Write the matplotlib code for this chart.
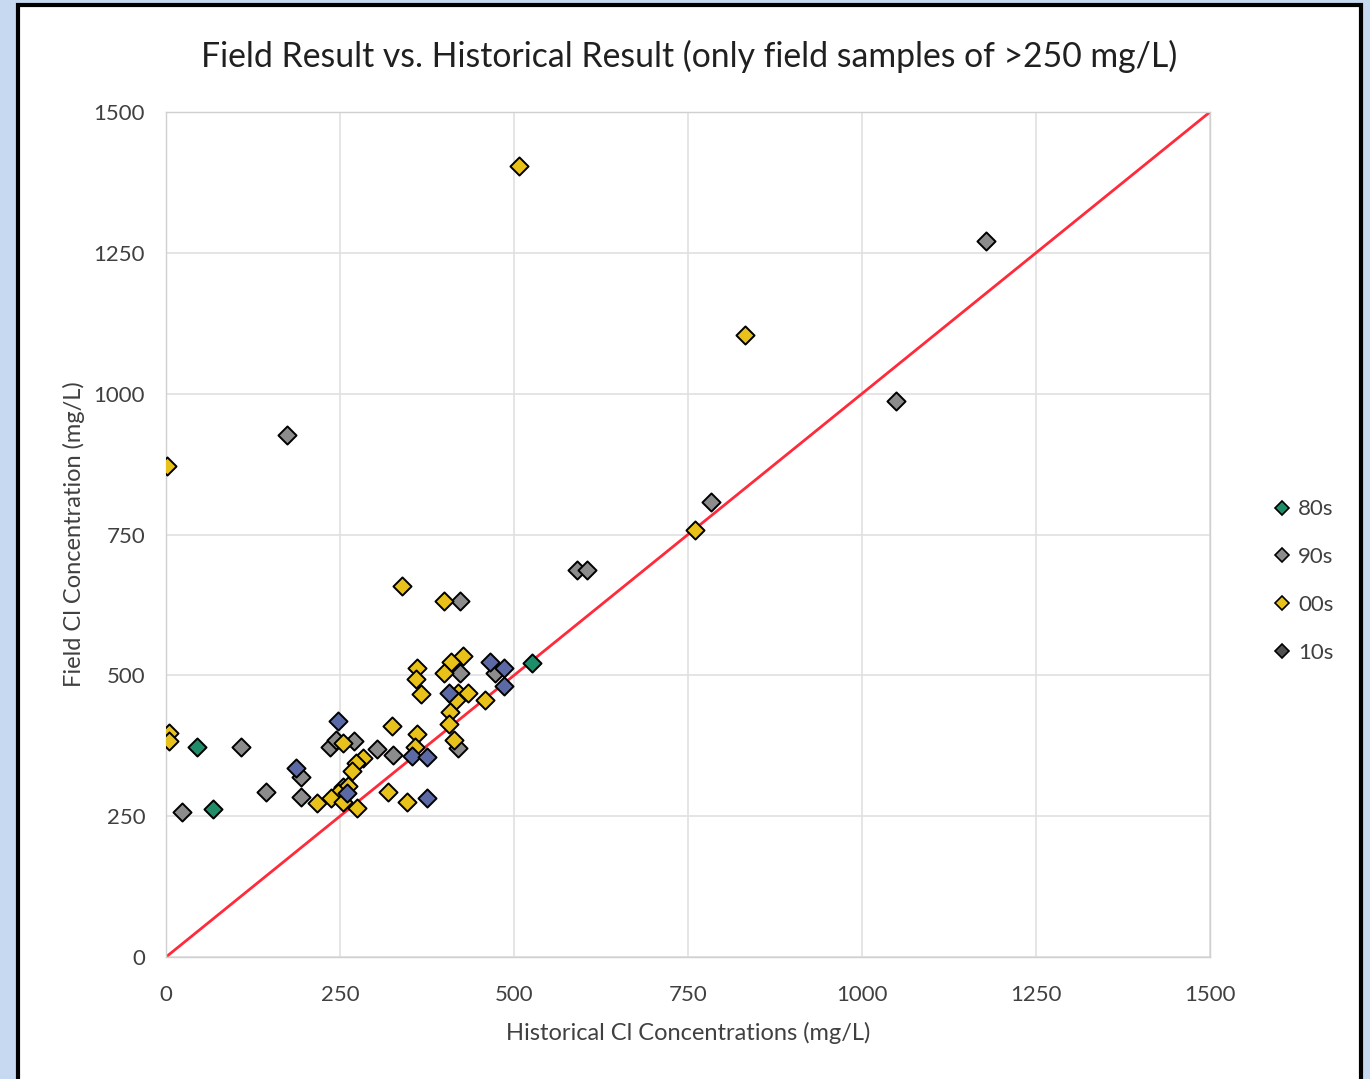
import matplotlib
matplotlib.use("Agg")
import matplotlib.pyplot as plt
from matplotlib.patches import Rectangle
from matplotlib.lines import Line2D

plt.rcParams['font.family'] = ['Lato', 'DejaVu Sans']

# Historical (x) vs Field (y) Cl concentrations, mg/L
x80 = [45, 68, 526]
y80 = [373, 263, 522]

x90 = [174, 1178, 1049, 783, 591, 605, 422, 422, 473, 420, 108, 194, 144, 194,
       23, 236, 244, 270, 303, 326, 254]
y90 = [927, 1271, 987, 808, 687, 687, 632, 504, 504, 371, 373, 320, 293, 284,
       257, 373, 385, 383, 369, 359, 302]

x00 = [4, 4, 2, 507, 832, 760, 339, 399, 427, 409, 399, 361, 359, 366, 420, 434,
       417, 458, 408, 407, 414, 361, 358, 325, 254, 283, 273, 267, 261, 247, 237,
       254, 217, 274, 319, 346]
y00 = [398, 383, 872, 1404, 1104, 758, 659, 632, 534, 524, 504, 513, 494, 467,
       469, 469, 456, 456, 435, 414, 385, 396, 373, 410, 380, 353, 344, 330, 304,
       291, 282, 275, 273, 265, 293, 275]

x10 = [247, 187, 260, 407, 466, 486, 486, 353, 375, 375]
y10 = [419, 336, 291, 469, 524, 513, 481, 357, 355, 282]

series_labels = ['80s', '90s', '00s', '10s']
ticks = [0, 250, 500, 750, 1000, 1250, 1500]

W, H = 1370, 1079
fig = plt.figure(figsize=(W / 100, H / 100), dpi=100)
fig.patch.set_facecolor('#c6d9f0')
# white panel with black frame
fig.patches.append(Rectangle((18 / W, -0.02), (1361 - 18) / W, 1 - 5 / H + 0.02,
                             transform=fig.transFigure, facecolor='white',
                             edgecolor='black', linewidth=3, zorder=-10))

ax = fig.add_axes([166 / W, 1 - 957 / H, (1210 - 166) / W, (957 - 112) / H])
ax.set_facecolor('white')
ax.set_xlim(0, 1500)
ax.set_ylim(0, 1500)
ax.set_xticks(ticks)
ax.set_yticks(ticks)
ax.tick_params(length=0, labelsize=16, colors='#404040')
ax.tick_params(axis='x', pad=20)
ax.tick_params(axis='y', pad=15)
ax.grid(True, color='#e0e0e0', linewidth=1.2)
ax.set_axisbelow(True)
for s in ax.spines.values():
    s.set_color('#d0d0d0')
    s.set_linewidth(1)

ax.plot([0, 1500], [0, 1500], color='#ff2a3a', linewidth=2, zorder=2)

kw = dict(marker='D', s=85, edgecolors='black', linewidths=1.4, zorder=3)
ax.scatter(x90, y90, c='#8c8c8c', **kw)
ax.scatter(x00, y00, c='#e8c21a', **kw)
ax.scatter(x10, y10, c='#5b6aa6', **kw)
ax.scatter(x80, y80, c='#1f8c6a', **kw)

ax.set_xlabel('Historical Cl Concentrations (mg/L)', fontsize=17, color='#404040', labelpad=12)
ax.set_ylabel('Field Cl Concentration (mg/L)', fontsize=17, color='#404040', labelpad=6)
fig.text(689 / W, 1 - 56 / H,
         'Field Result vs. Historical Result (only field samples of >250 mg/L)',
         ha='center', va='center', fontsize=24.3, color='#202020')

handles = [Line2D([], [], marker='D', linestyle='none', markersize=7,
                  markerfacecolor=c, markeredgecolor='black', markeredgewidth=1.2)
           for c in ['#1f8c6a', '#8c8c8c', '#e8c21a', '#505050']]
fig.legend(handles, series_labels, loc='center left',
           bbox_to_anchor=(1249 / W, 1 - 581 / H), frameon=False,
           fontsize=16, labelcolor='#404040', handletextpad=0.1,
           labelspacing=1.25, handlelength=1.2)

fig.savefig('out.png', dpi=100, facecolor=fig.get_facecolor())
